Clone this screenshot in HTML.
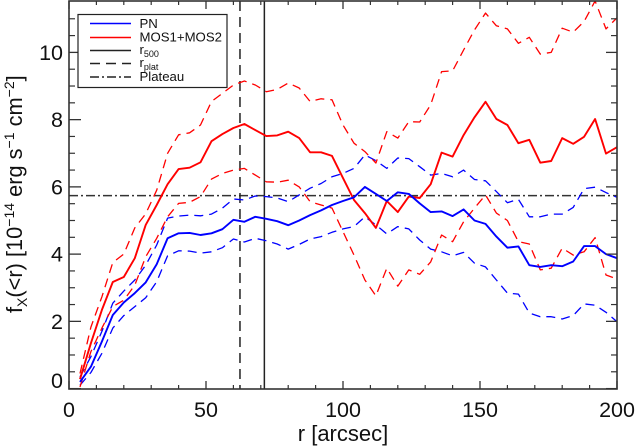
<!DOCTYPE html>
<html>
<head>
<meta charset="utf-8">
<style>
html,body{margin:0;padding:0;background:#fff;width:635px;height:446px;overflow:hidden}
svg{display:block;font-family:"Liberation Sans",sans-serif}
</style>
</head>
<body>
<svg id="chart" xmlns="http://www.w3.org/2000/svg" width="635" height="446" viewBox="0 0 635 446">
<rect x="0" y="0" width="635" height="446" fill="#fff"/>
<defs><clipPath id="plot-clip"><rect x="69" y="1" width="548" height="388"/></clipPath></defs>
<g id="series" clip-path="url(#plot-clip)"></g>
<g id="axes"></g>
<text x="343" y="441" font-size="22" text-anchor="middle" fill="#111">r [arcsec]</text>
<text transform="translate(22,313) rotate(-90)" font-size="21.8" fill="#111">f<tspan font-size="14" dy="5">X</tspan><tspan dy="-5">(&lt;r) [10</tspan><tspan font-size="14" dy="-8">−14</tspan><tspan dy="8"> erg s</tspan><tspan font-size="14" dy="-8">−1</tspan><tspan dy="8"> cm</tspan><tspan font-size="14" dy="-8">−2</tspan><tspan dy="8">]</tspan></text>
<g>
<rect x="78" y="14.5" width="149" height="73" fill="#fff" stroke="#222" stroke-width="1.2"/>
<line x1="90" x2="131" y1="23.5" y2="23.5" stroke="#0000ff" stroke-width="1.5"/>
<line x1="90" x2="131" y1="37.5" y2="37.5" stroke="#ff0000" stroke-width="1.5"/>
<line x1="90" x2="131" y1="50.5" y2="50.5" stroke="#222" stroke-width="1.5"/>
<line x1="90" x2="131" y1="63.5" y2="63.5" stroke="#222" stroke-width="1.5" stroke-dasharray="10 6"/>
<line x1="90" x2="131" y1="77" y2="77" stroke="#222" stroke-width="1.5" stroke-dasharray="9 3 2 3"/>
<text x="139.5" y="28" font-size="13.2" fill="#111">PN</text>
<text x="139.5" y="41.5" font-size="13.2" fill="#111">MOS1+MOS2</text>
<text x="139.5" y="54" font-size="13.2" fill="#111">r<tspan font-size="9" dy="3">500</tspan></text>
<text x="139.5" y="67" font-size="13.2" fill="#111">r<tspan font-size="9" dy="3">plat</tspan></text>
<text x="139.5" y="81" font-size="13.2" fill="#111">Plateau</text>
</g>
</svg>
<script>
const radii = [4,8,12,16,20,24,28,32,36,40,44,48,52,56,60,64,68,72,76,80,84,88,92,96,100,104,108,112,116,120,124,128,132,136,140,144,148,152,156,160,164,168,172,176,180,184,188,192,196,200];
const pnFlux = [0.2,0.65,1.4,2.19,2.56,2.84,3.16,3.7,4.47,4.62,4.63,4.57,4.62,4.74,5.02,4.96,5.11,5.05,4.98,4.86,5.0,5.16,5.3,5.46,5.58,5.69,6.0,5.79,5.58,5.84,5.79,5.51,5.25,5.27,5.13,5.33,5.0,4.9,4.52,4.19,4.23,3.67,3.62,3.67,3.64,3.78,4.24,4.24,4.0,3.88];
const pnUpper = [0.35,0.95,1.7,2.54,2.9,3.23,3.67,4.27,5.07,5.13,5.16,5.14,5.19,5.37,5.64,5.61,5.73,5.71,5.67,5.56,5.76,5.96,6.1,6.3,6.4,6.55,6.95,6.78,6.55,6.86,6.84,6.6,6.35,6.4,6.3,6.5,6.22,6.18,5.86,5.53,5.63,5.11,5.11,5.19,5.19,5.39,5.95,5.99,5.83,5.69];
const pnLower = [0.1,0.48,1.05,1.8,2.17,2.44,2.7,3.18,3.95,4.1,4.09,4.03,4.07,4.19,4.45,4.36,4.47,4.4,4.3,4.15,4.29,4.45,4.52,4.65,4.75,4.82,5.11,4.87,4.6,4.82,4.75,4.42,4.15,4.07,3.95,4.05,3.73,3.62,3.23,2.84,2.81,2.25,2.14,2.14,2.07,2.17,2.52,2.48,2.27,1.99];
const mosFlux = [0.28,1.35,2.34,3.17,3.32,3.88,4.87,5.46,6.08,6.53,6.57,6.73,7.36,7.57,7.75,7.87,7.69,7.51,7.53,7.64,7.45,7.03,7.03,6.92,6.26,5.61,5.22,4.78,5.58,5.25,5.71,5.67,6.08,7.02,6.9,7.54,8.07,8.53,8.02,7.84,7.3,7.4,6.72,6.77,7.45,7.28,7.49,8.02,6.99,7.18];
const mosUpper = [0.45,1.83,2.73,3.75,4.0,4.78,5.2,5.9,7.0,7.55,7.61,7.84,8.54,8.78,9.03,9.15,9.03,8.83,8.9,9.09,8.94,8.54,8.62,8.59,7.84,7.3,7.05,6.71,7.64,7.45,7.94,7.93,8.44,9.43,9.45,10.07,10.67,11.17,10.79,10.7,10.27,10.45,9.95,10.0,10.72,10.6,10.92,11.53,10.7,11.03];
const mosLower = [0.05,1.1,1.8,2.44,2.63,3.08,3.92,4.47,5.11,5.51,5.54,5.71,6.23,6.4,6.5,6.55,6.35,6.15,6.14,6.2,6.0,5.56,5.46,5.37,4.67,3.97,3.23,2.76,3.58,3.05,3.53,3.4,3.77,4.57,4.37,4.96,5.37,5.76,5.22,5.0,4.37,4.3,3.53,3.58,4.18,3.97,4.07,4.49,3.38,3.26];
const xTickLabels = [0,50,100,150,200];
const yTickLabels = [0,2,4,6,8,10];
const xMinorTicks = [10,20,30,40,60,70,80,90,110,120,130,140,160,170,180,190];
const yMinorTicks = [0.5,1,1.5,2.5,3,3.5,4.5,5,5.5,6.5,7,7.5,8.5,9,9.5,10.5,11];
const rPlat = 62.4;
const r500 = 71.3;
const plateau = 5.74;

const NS = 'http://www.w3.org/2000/svg';
const xScale = v => 69 + v * 2.74;
const yScale = v => 388.6 - v * 33.62;
const seriesGroup = document.getElementById('series');
const axesGroup = document.getElementById('axes');

function makeLine(parent, x1, y1, x2, y2, color, width, dash) {
  const l = document.createElementNS(NS, 'line');
  l.setAttribute('x1', x1);
  l.setAttribute('y1', y1);
  l.setAttribute('x2', x2);
  l.setAttribute('y2', y2);
  l.setAttribute('stroke', color);
  l.setAttribute('stroke-width', width);
  if (dash) l.setAttribute('stroke-dasharray', dash);
  parent.appendChild(l);
  return l;
}
function makeSeries(values, color, width, dash) {
  const p = document.createElementNS(NS, 'polyline');
  p.setAttribute('points', values.map((v, i) => xScale(radii[i]).toFixed(1) + ',' + yScale(v).toFixed(1)).join(' '));
  p.setAttribute('fill', 'none');
  p.setAttribute('stroke', color);
  p.setAttribute('stroke-width', width);
  p.setAttribute('stroke-linejoin', 'round');
  if (dash) p.setAttribute('stroke-dasharray', dash);
  seriesGroup.appendChild(p);
  return p;
}
function makeLabel(x, y, anchor, str) {
  const t = document.createElementNS(NS, 'text');
  t.setAttribute('x', x);
  t.setAttribute('y', y);
  t.setAttribute('text-anchor', anchor);
  t.setAttribute('font-size', '21.5');
  t.setAttribute('fill', '#111');
  t.textContent = str;
  axesGroup.appendChild(t);
  return t;
}

const plateauLine = makeLine(seriesGroup, 69, yScale(plateau), 617, yScale(plateau), '#333', 1.5, '9 3 2 3');



const rPlatLine = makeLine(seriesGroup, xScale(rPlat), 1, xScale(rPlat), 389, '#222', 1.5, '10 6');



const r500Line = makeLine(seriesGroup, xScale(r500), 1, xScale(r500), 389, '#222', 1.5);



const pnUpperLine = makeSeries(pnUpper, '#0000ff', 1.3, '9 6');



const pnLowerLine = makeSeries(pnLower, '#0000ff', 1.3, '9 6');



const mosUpperLine = makeSeries(mosUpper, '#ff0000', 1.3, '9 6');



const mosLowerLine = makeSeries(mosLower, '#ff0000', 1.3, '9 6');



const mosLine = makeSeries(mosFlux, '#ff0000', 1.9);



const pnLine = makeSeries(pnFlux, '#0000ff', 1.9);



const frame = document.createElementNS(NS, 'rect');
frame.setAttribute('x', 69);
frame.setAttribute('y', 1);
frame.setAttribute('width', 548);
frame.setAttribute('height', 388);
frame.setAttribute('fill', 'none');
frame.setAttribute('stroke', '#333');
frame.setAttribute('stroke-width', 1.6);


axesGroup.appendChild(frame);

xTickLabels.forEach(v => {
  const x = xScale(v);
  const bottomTick = makeLine(axesGroup, x, 389, x, 381, '#333', 1.3);
  
  
  const topTick = makeLine(axesGroup, x, 1, x, 9, '#333', 1.3);
  
  
  const label = makeLabel(x, 417, 'middle', String(v));
  
  
});
xMinorTicks.forEach(v => {
  const x = xScale(v);
  const bottomTick = makeLine(axesGroup, x, 389, x, 385, '#333', 1.2);
  
  
  const topTick = makeLine(axesGroup, x, 1, x, 5, '#333', 1.2);
  
  
});
yTickLabels.forEach(v => {
  const y = yScale(v);
  const leftTick = makeLine(axesGroup, 69, y, 81, y, '#333', 1.3);
  
  
  const rightTick = makeLine(axesGroup, 617, y, 606, y, '#333', 1.3);
  
  
  const label = makeLabel(63, v === 0 ? y - 0.5 : y + 7.5, 'end', String(v));
  
  
});
yMinorTicks.forEach(v => {
  const y = yScale(v);
  const leftTick = makeLine(axesGroup, 69, y, 75, y, '#333', 1.2);
  
  
  const rightTick = makeLine(axesGroup, 617, y, 611, y, '#333', 1.2);
  
  
});
</script>
</body>
</html>
